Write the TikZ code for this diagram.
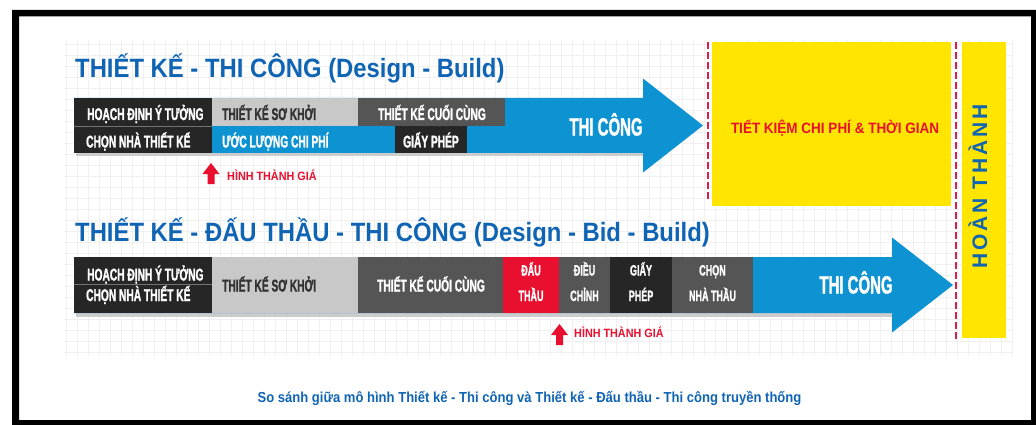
\documentclass[tikz,border=0pt]{standalone}
\usepackage{fontspec}
\setmainfont{Liberation Sans}
\newfontfamily\cond[FakeStretch=0.6,FakeBold=1.3]{Liberation Sans}
\newfontfamily\rob[FakeStretch=0.9]{Liberation Sans}
\newfontfamily\spaced[LetterSpace=14]{Liberation Sans}
\definecolor{titleblue}{HTML}{1064B4}
\definecolor{cblue}{HTML}{0D92D2}
\definecolor{cdark}{HTML}{262626}
\definecolor{clight}{HTML}{C8C8C8}
\definecolor{cmid}{HTML}{555555}
\definecolor{cred}{HTML}{E8102E}
\definecolor{cyellow}{HTML}{FFE500}
\definecolor{dashred}{HTML}{D8204A}
\definecolor{textdark}{HTML}{333333}
\definecolor{gridc}{HTML}{F0F0F0}
\begin{document}
\begin{tikzpicture}[x=1pt,y=-1pt,
  boxbase/.style={rectangle, inner sep=0pt, outer sep=0pt, anchor=north west},
  darkbox/.style={boxbase, fill=cdark},
  lightbox/.style={boxbase, fill=clight},
  midbox/.style={boxbase, fill=cmid},
  redbox/.style={boxbase, fill=cred},
  yellowbox/.style={boxbase, fill=cyellow},
  lbl/.style={font=\cond\bfseries\fontsize{17}{20}\selectfont, text=white, inner sep=0pt},
  lbltwo/.style={font=\cond\bfseries\fontsize{15}{18}\selectfont, text=white, inner sep=0pt, anchor=base},
  biglbl/.style={font=\cond\bfseries\fontsize{25}{28}\selectfont, text=white, inner sep=0pt, anchor=base},
  titletext/.style={font=\rob\bfseries\fontsize{26.5}{30}\selectfont, text=titleblue, inner sep=0pt, anchor=base west},
  pricetext/.style={font=\rob\bfseries\fontsize{12}{14}\selectfont, text=cred, inner sep=0pt, anchor=base west},
  reddash/.style={draw=dashred, line width=1.6pt, dash pattern=on 7pt off 3pt},
  shadowbar/.style={fill=black!20},
  uparrow/.style={fill=cred}
]
\useasboundingbox (0,0) rectangle (1036,425);
\fill[white] (0,0) rectangle (1036,425);
% faint grid
\draw[gridc, line width=0.5pt, step=11pt] (64,356) grid (1012,40);

% yellow areas
\node[yellowbox, minimum width=239pt, minimum height=164pt] (save) at (712,42) {};
\node[yellowbox, minimum width=44pt, minimum height=296pt] (done) at (962,42) {};
\node[font=\rob\bfseries\fontsize{15}{18}\selectfont, text=cred, inner sep=0pt, anchor=base] (savetxt) at (835,133.5) {TIẾT KIỆM CHI PHÍ \& THỜI GIAN};
\node[font=\spaced\bfseries\fontsize{21}{24}\selectfont, text=titleblue, inner sep=0pt, anchor=base, rotate=90] (donetxt) at (987,186.5) {HOÀN THÀNH};

% dashed separators
\coordinate (dA1) at (708,42);
\coordinate (dA2) at (708,202);
\coordinate (dB1) at (956,42);
\coordinate (dB2) at (956,340);
\draw[reddash] (dA1) -- (dA2);
\draw[reddash] (dB1) -- (dB2);

% titles
\node[titletext] (title1) at (75,77.5) {THIẾT KẾ - THI CÔNG (Design - Build)};
\node[titletext] (title2) at (75,241) {THIẾT KẾ - ĐẤU THẦU - THI CÔNG (Design - Bid - Build)};

% ---------- top process (Design - Build)
\fill[shadowbar] (76,153) rectangle (643,156.5);
\fill[cblue] (74,98) -- (643,98) -- (643,78.5) -- (703,125.5) -- (643,172.5) -- (643,153) -- (74,153) -- cycle;
\node[darkbox, minimum width=138pt, minimum height=28pt] (a1) at (74,98) {};
\node[lightbox, minimum width=146pt, minimum height=28pt] (a2) at (212,98) {};
\node[midbox, minimum width=147pt, minimum height=28pt] (a3) at (358,98) {};
\node[darkbox, minimum width=138pt, minimum height=27pt] (b1) at (74,126) {};
\node[darkbox, minimum width=72pt, minimum height=27pt] (b3) at (395,126) {};
\draw[black!55, line width=0.5pt] (a1.south west) -- (a1.south east);

\node[lbl, anchor=base west] (a1t) at (87,120) {HOẠCH ĐỊNH Ý TƯỞNG};
\node[lbl, anchor=base west, text=textdark] (a2t) at (222,120) {THIẾT KẾ SƠ KHỞI};
\node[lbl, anchor=base] (a3t) at (432,120) {THIẾT KẾ CUỐI CÙNG};
\node[lbl, anchor=base west] (b1t) at (86,147.5) {CHỌN NHÀ THIẾT KẾ};
\node[lbl, anchor=base west] (b2t) at (222,147.5) {ƯỚC LƯỢNG CHI PHÍ};
\node[lbl, anchor=base] (b3t) at (431,147.5) {GIẤY PHÉP};
\node[biglbl] (tc1) at (606,135.5) {THI CÔNG};

\fill[uparrow, shift={(211,163)}] (0,0) -- (8.5,11) -- (3.5,11) -- (3.5,21) -- (-3.5,21) -- (-3.5,11) -- (-8.5,11) -- cycle;
\node[pricetext] (price1) at (227,180.5) {HÌNH THÀNH GIÁ};

% ---------- bottom process (Design - Bid - Build)
\fill[shadowbar] (76,313) rectangle (892,316.5);
\fill[cblue] (74,257) -- (892,257) -- (892,237.5) -- (953,285) -- (892,332.5) -- (892,313) -- (74,313) -- cycle;
\node[darkbox, minimum width=138pt, minimum height=56pt] (c1) at (74,257) {};
\node[lightbox, minimum width=146pt, minimum height=56pt] (c2) at (212,257) {};
\node[midbox, minimum width=145pt, minimum height=56pt] (c3) at (358,257) {};
\node[redbox, minimum width=56pt, minimum height=56pt] (c4) at (503,257) {};
\node[midbox, minimum width=51pt, minimum height=56pt] (c5) at (559,257) {};
\node[darkbox, minimum width=62pt, minimum height=56pt] (c6) at (610,257) {};
\node[midbox, minimum width=81pt, minimum height=56pt] (c7) at (672,257) {};
\draw[black!55, line width=0.5pt] (74,284.5) -- (212,284.5);

\node[lbl, anchor=base west] (c1t) at (87,280.5) {HOẠCH ĐỊNH Ý TƯỞNG};
\node[lbl, anchor=base west] (c1u) at (86,301) {CHỌN NHÀ THIẾT KẾ};
\node[lbl, anchor=base west, text=textdark] (c2t) at (222,291.5) {THIẾT KẾ SƠ KHỞI};
\node[lbl, anchor=base] (c3t) at (431,291.5) {THIẾT KẾ CUỐI CÙNG};
\node[lbltwo] (c4t) at (531,275.5) {ĐẤU};
\node[lbltwo] (c4u) at (531,301) {THẦU};
\node[lbltwo] (c5t) at (584.5,275.5) {ĐIỀU};
\node[lbltwo] (c5u) at (584.5,301) {CHỈNH};
\node[lbltwo] (c6t) at (641,275.5) {GIẤY};
\node[lbltwo] (c6u) at (641,301) {PHÉP};
\node[lbltwo] (c7t) at (712.5,275.5) {CHỌN};
\node[lbltwo] (c7u) at (712.5,301) {NHÀ THẦU};
\node[biglbl] (tc2) at (856,293.5) {THI CÔNG};

\fill[uparrow, shift={(559.5,324)}] (0,0) -- (8.5,11) -- (3.5,11) -- (3.5,21) -- (-3.5,21) -- (-3.5,11) -- (-8.5,11) -- cycle;
\node[pricetext] (price2) at (574,337.5) {HÌNH THÀNH GIÁ};

% caption
\node[font=\rob\bfseries\fontsize{14.5}{17}\selectfont, text=titleblue, inner sep=0pt, anchor=base] (caption) at (529.5,402) {So sánh giữa mô hình Thiết kế - Thi công và Thiết kế - Đấu thầu - Thi công truyền thống};

% black frame
\fill[black, even odd rule] (12,10) rectangle (1036,425) (19,16.5) rectangle (1031,420);
\end{tikzpicture}
\end{document}
